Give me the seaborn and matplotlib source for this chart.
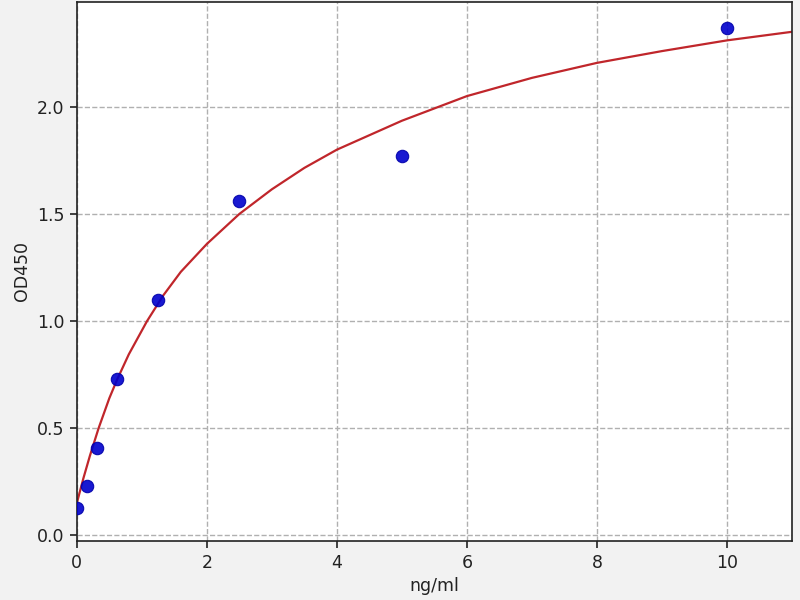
import matplotlib
matplotlib.use("Agg")
import matplotlib.pyplot as plt
import seaborn as sns
import pandas as pd

# Standard points (concentration ng/ml, OD450)
conc = [0, 0.156, 0.3125, 0.625, 1.25, 2.5, 5, 10]
od = [0.13, 0.23, 0.41, 0.73, 1.10, 1.56, 1.77, 2.37]

# Fitted curve
curve_x = [0, 0.1, 0.2, 0.335, 0.5, 0.62, 0.8, 1.08, 1.33, 1.6, 2.0, 2.5, 3.0, 3.5,
           4, 5, 6, 7, 8, 9, 10, 11]
curve_y = [0.15, 0.265, 0.37, 0.50, 0.64, 0.727, 0.845, 1.00, 1.12, 1.23, 1.36, 1.50,
           1.615, 1.715, 1.80, 1.935, 2.05, 2.135, 2.205, 2.26, 2.31, 2.35]

x_ticks = [0, 2, 4, 6, 8, 10]
y_ticks = [0.0, 0.5, 1.0, 1.5, 2.0]

sns.set_theme(style="white")
plt.rcParams["font.family"] = ["DejaVu Sans"]
plt.rcParams["font.size"] = 12.5

fig = plt.figure(figsize=(8, 6), dpi=100, facecolor="#f2f2f2")
ax = fig.add_axes([0.096, 0.098, 0.894, 0.899])
ax.set_facecolor("white")

pts = pd.DataFrame({"x": conc, "y": od})
crv = pd.DataFrame({"x": curve_x, "y": curve_y})

sns.lineplot(data=crv, x="x", y="y", ax=ax, color="#c0262b", linewidth=1.6,
             zorder=2, estimator=None, sort=False)
sns.scatterplot(data=pts, x="x", y="y", ax=ax, color="#0000cc", s=80,
                edgecolor="#0000aa", linewidth=0.8, alpha=0.9, zorder=3)

ax.set_xlim(0, 11)
ax.set_ylim(-0.027, 2.49)
ax.set_xticks(x_ticks)
ax.set_xticklabels([str(t) for t in x_ticks])
ax.set_yticks(y_ticks)
ax.set_yticklabels([f"{t:.1f}" for t in y_ticks])

ax.grid(True, color="#b0b0b0", linestyle="--", linewidth=1.0)
ax.set_axisbelow(True)
for s in ax.spines.values():
    s.set_visible(True)
    s.set_color("#222222")
    s.set_linewidth(1.2)
ax.tick_params(axis="both", which="major", direction="out", length=5, width=1.2,
               color="#222222", labelsize=12.5, labelcolor="#222222",
               bottom=True, left=True, pad=4)

ax.set_xlabel("ng/ml", fontsize=12.5, color="#222222")
ax.set_ylabel("OD450", fontsize=12.5, color="#222222")

fig.savefig("out.png", dpi=100, facecolor=fig.get_facecolor())
